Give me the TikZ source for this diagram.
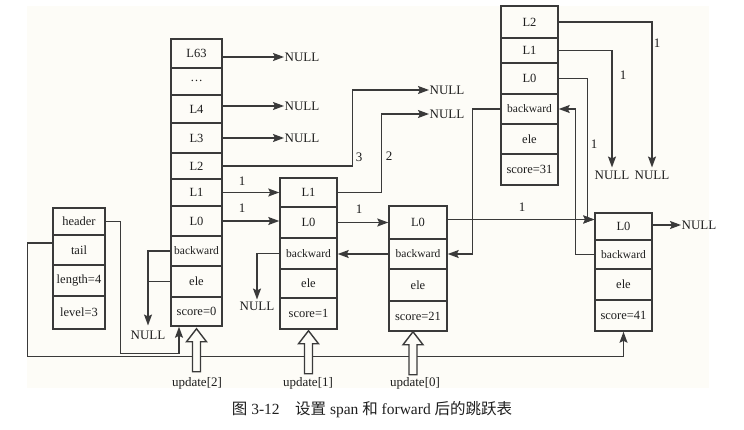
\documentclass[tikz,border=0pt]{standalone}
\usepackage{fontspec}
\setmainfont{Liberation Serif}
\newfontfamily\cjk{Noto Sans CJK SC}
\usetikzlibrary{arrows.meta,calc}
\definecolor{lc}{HTML}{3A3A3A}
\definecolor{bg}{HTML}{FDFCF7}
\definecolor{tc}{HTML}{1E1E1E}
\newcommand\updarrow[1]{\draw[upd] (#1) -- ++(10,13) -- ++(-6,0) -- ++(0,30) -- ++(-8,0) -- ++(0,-30) -- ++(-6,0) -- cycle;}
\begin{document}
\begin{tikzpicture}[x=1pt,y=-1pt,
 cell/.style={draw=lc,line width=1.5pt,inner sep=0pt,text=tc,font=\fontsize{12.5}{12}\selectfont},
 bw/.style={font=\fontsize{11.5}{11}\selectfont},
 ln/.style={draw=lc,line width=1.4pt},
 arr/.style={ln,-{Stealth[length=11pt,width=8pt,inset=2pt]}},
 lbl/.style={inner sep=1pt,text=tc,font=\fontsize{13}{12}\selectfont},
 nul/.style={lbl,inner sep=0.5pt},
 upd/.style={draw=lc,line width=1.4pt,fill=bg},
 ]
\useasboundingbox (0,0) rectangle (744,430);
\fill[bg] (27,6) rectangle (709,388);

% header structure
\node[cell,minimum width=52pt,minimum height=27pt] (hH) at (79,221.5) {header};
\node[cell,minimum width=52pt,minimum height=30pt] (hT) at (79,250) {tail};
\node[cell,minimum width=52pt,minimum height=31pt] (hLen) at (79,280.5) {length=4};
\node[cell,minimum width=52pt,minimum height=33pt] (hLev) at (79,312.5) {level=3};

% node 1 (header node)
\node[cell,minimum width=51pt,minimum height=29pt] (a63) at (196.5,53.5) {L63};
\node[cell,minimum width=51pt,minimum height=27pt] (adots) at (196.5,81.5) {\raisebox{2pt}{\dots}};
\node[cell,minimum width=51pt,minimum height=28pt] (a4) at (196.5,109) {L4};
\node[cell,minimum width=51pt,minimum height=30pt] (a3) at (196.5,138) {L3};
\node[cell,minimum width=51pt,minimum height=26pt] (a2) at (196.5,166) {L2};
\node[cell,minimum width=51pt,minimum height=27pt] (a1) at (196.5,192.5) {L1};
\node[cell,minimum width=51pt,minimum height=30pt] (a0) at (196.5,221) {L0};
\node[cell,bw,minimum width=51pt,minimum height=30pt] (ab) at (196.5,251) {backward};
\node[cell,minimum width=51pt,minimum height=31pt] (ae) at (196.5,281.5) {ele};
\node[cell,minimum width=51pt,minimum height=29pt] (as) at (196.5,311.5) {score=0};

% node 2
\node[cell,minimum width=57pt,minimum height=29pt] (b1) at (308.5,192.5) {L1};
\node[cell,minimum width=57pt,minimum height=31pt] (b0) at (308.5,222.5) {L0};
\node[cell,bw,minimum width=57pt,minimum height=31pt] (bb) at (308.5,253.5) {backward};
\node[cell,minimum width=57pt,minimum height=29pt] (be) at (308.5,283.5) {ele};
\node[cell,minimum width=57pt,minimum height=31pt] (bs) at (308.5,313.5) {score=1};

% node 3
\node[cell,minimum width=58pt,minimum height=33pt] (c0) at (418,222.5) {L0};
\node[cell,bw,minimum width=58pt,minimum height=30pt] (cb) at (418,254) {backward};
\node[cell,minimum width=58pt,minimum height=32pt] (ce) at (418,285) {ele};
\node[cell,minimum width=58pt,minimum height=30pt] (cs) at (418,316) {score=21};

% node 4
\node[cell,minimum width=57pt,minimum height=32pt] (d2) at (529.5,22) {L2};
\node[cell,minimum width=57pt,minimum height=25pt] (d1) at (529.5,50.5) {L1};
\node[cell,minimum width=57pt,minimum height=31pt] (d0) at (529.5,78.5) {L0};
\node[cell,bw,minimum width=57pt,minimum height=30pt] (db) at (529.5,109) {backward};
\node[cell,minimum width=57pt,minimum height=30pt] (de) at (529.5,139) {ele};
\node[cell,minimum width=57pt,minimum height=31pt] (ds) at (529.5,169.5) {score=31};

% node 5
\node[cell,minimum width=57pt,minimum height=27pt] (e0) at (623.5,226.5) {L0};
\node[cell,bw,minimum width=57pt,minimum height=29pt] (eb) at (623.5,254.5) {backward};
\node[cell,minimum width=57pt,minimum height=31pt] (ee) at (623.5,284.5) {ele};
\node[cell,minimum width=57pt,minimum height=31pt] (es) at (623.5,315.5) {score=41};

% NULL labels
\node[nul,anchor=west] (nA) at (284,57) {NULL};
\node[nul,anchor=west] (nB) at (284,106) {NULL};
\node[nul,anchor=west] (nC) at (284,138) {NULL};
\node[nul,anchor=west] (nD) at (429,90) {NULL};
\node[nul,anchor=west] (nE) at (429,114) {NULL};
\node[nul,anchor=west] (nH) at (681,225) {NULL};
\node[lbl,inner ysep=3pt] (nF) at (612,175) {NULL};
\node[lbl,inner ysep=3pt] (nG) at (652,175) {NULL};
\node[lbl,inner ysep=2pt] (nI) at (257,306) {NULL};
\node[lbl,inner ysep=5pt] (nJ) at (148,335) {NULL};

% forward pointers
\draw[arr] (a63.east |- nA.west) -- (nA.west);
\draw[arr] (a4.east |- nB.west) -- (nB.west);
\draw[arr] (a3.east) -- (nC.west);
\draw[arr] (a2.east) -- ++(130,0) |- (nD.west);
\draw[arr] (b1.east) -- ++(44,0) |- (nE.west);
\draw[arr] (a1.east) -- (b1.west);
\draw[arr] (a0.east) -- (a0.east -| b0.west);
\draw[arr] (b0.east) -- (c0.west);
\coordinate (m5) at ($(c0.east -| e0.west)+(0,-3)$);
\draw[arr] (c0.east |- m5) -- (m5);
\draw[arr] (d0.east) -- ++(29,0) |- (m5);
\draw[arr] (d1.east) -| (nF.north);
\draw[arr] (d2.east) -| (nG.north);
\draw[arr] (e0.east |- nH.west) -- (nH.west);

% backward pointers
\draw[arr] (eb.west) -- ++(-19,0) |- (db.east);
\draw[arr] (db.west) -- ++(-28,0) |- (cb.east);
\draw[arr] (cb.west) -- (cb.west -| bb.east);
\draw[arr] (bb.west) -| (nI.north);
\draw[arr] (ab.west) -| (nJ.north);
\draw[ln] (ae.west) -- (ae.west -| nJ.north);

% header / tail
\coordinate (hb) at ($(as.south)+(-17.5,27)$);
\draw[arr] (hH.east) -- ++(15,0) |- (hb) -- (hb |- as.south);
\coordinate (tb) at ($(es.south)+(0,25)$);
\draw[arr] ($(hT.west)+(0,-7)$) -- ++(-25,0) |- (tb) -- (es.south);

% span labels
\node[lbl] (s3) at (359,157) {3};
\node[lbl] (s2) at (389,156) {2};
\node[lbl] (sa1) at (242,181) {1};
\node[lbl] (sa0) at (242,208) {1};
\node[lbl] (sb0) at (359,209) {1};
\node[lbl] (sc0) at (522,207) {1};
\node[lbl] (sd0) at (594,144) {1};
\node[lbl] (sd1) at (623,75) {1};
\node[lbl] (sd2) at (657,43) {1};

% update arrows
\updarrow{$(as.south)+(0,2)$}
\updarrow{$(bs.south)+(0,1)$}
\updarrow{$(cs.south)+(-5,0)$}
\node[lbl] (u2) at (197,383) {update[2]};
\node[lbl] (u1) at (308,383) {update[1]};
\node[lbl] (u0) at (415,383) {update[0]};

% caption
\node[text=tc,font=\fontsize{15.5}{15}\selectfont] (cap) at (372,410)
 {{\cjk 图} 3-12\hspace{1em}{\cjk 设置} span {\cjk 和} forward {\cjk 后的跳跃表}};
\end{tikzpicture}
\end{document}
